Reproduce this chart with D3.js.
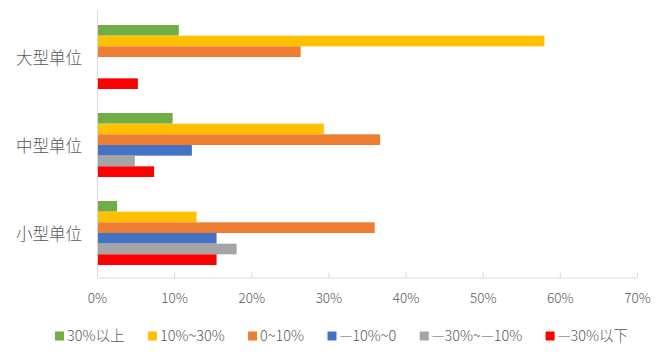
<!DOCTYPE html>
<html>
<head>
<meta charset="utf-8">
<script src="https://cdn.jsdelivr.net/npm/d3@7"></script>
<style>
  html, body { margin: 0; padding: 0; background: #fff; }
  svg { display: block; font-family: "Noto Sans CJK SC", "Noto Sans", sans-serif; }
</style>
</head>
<body>
<svg id="chart" width="663" height="356"></svg>
<script>
const categories = ["大型单位", "中型单位", "小型单位"];
const seriesNames = ["30%以上", "10%~30%", "0~10%", "—10%~0", "—30%~—10%", "—30%以下"];
const seriesColors = ["#70AD47", "#FFC000", "#ED7D31", "#4472C4", "#A5A5A5", "#FF0000"];
// values in percent, per series, ordered as categories
const s30up   = [10.6, 9.8, 2.6];
const s10to30 = [58.0, 29.4, 12.9];
const s0to10  = [26.4, 36.7, 36.0];
const sm10to0 = [0, 12.3, 15.5];
const sm30to10 = [0, 4.9, 18.1];
const sm30down = [5.3, 7.4, 15.5];
const seriesValues = [s30up, s10to30, s0to10, sm10to0, sm30to10, sm30down];
const xTicks = [0, 10, 20, 30, 40, 50, 60, 70];

const svg = d3.select("#chart");
const plotLeft = 97, plotRight = 637, plotTop = 13, plotBottom = 277;

const x = d3.scaleLinear().domain([0, 70]).range([plotLeft, plotRight]);
const y0 = d3.scaleBand().domain(categories).range([plotTop, plotBottom])
  .paddingInner(0.2727).paddingOuter(0.1364);
const y1 = d3.scaleBand().domain(seriesNames).range([0, y0.bandwidth()]);

// bars
categories.forEach((cat, ci) => {
  const g = svg.append("g").attr("transform", `translate(0,${y0(cat)})`);
  seriesNames.forEach((s, si) => {
    const v = seriesValues[si][ci];
    if (v <= 0) return;
    g.append("rect")
      .attr("x", x(0))
      .attr("y", y1(s))
      .attr("width", x(v) - x(0))
      .attr("height", y1.bandwidth())
      .attr("fill", seriesColors[si]);
  });
});

// axes
const axisColor = "#D9D9D9";
svg.append("line").attr("x1", plotLeft + 0.5).attr("x2", plotLeft + 0.5)
  .attr("y1", 10).attr("y2", plotBottom).attr("stroke", axisColor);
const xAxis = d3.axisBottom(x).tickValues(xTicks).tickSizeInner(-5).tickSizeOuter(0)
  .tickFormat(d => d + "%");
const gx = svg.append("g").attr("transform", `translate(0,${plotBottom + 0.5})`).call(xAxis);
gx.select(".domain").attr("stroke", axisColor);
gx.selectAll(".tick line").attr("stroke", axisColor);
gx.selectAll(".tick text")
  .attr("y", 25).attr("dy", "0")
  .attr("fill", "#595959")
  .style("font-size", "13.5px")
  .style("font-weight", "300")
  .style("font-family", "\"Noto Sans CJK SC\", sans-serif");

// category labels
svg.append("g").selectAll("text").data(categories).join("text")
  .attr("x", 82)
  .attr("y", d => y0(d) + y0.bandwidth() / 2 + 1)
  .attr("dy", "0.35em")
  .attr("text-anchor", "end")
  .attr("fill", "#595959")
  .style("font-size", "16.5px")
  .style("font-weight", "300")
  .text(d => d);

// legend
const legend = svg.append("g");
const legendY = 336;
const items = legend.selectAll("g").data(seriesNames).join("g");
items.append("rect").attr("width", 9).attr("height", 9).attr("y", legendY - 4.5)
  .attr("fill", (d, i) => seriesColors[i]);
items.append("text").attr("x", 12).attr("y", legendY).attr("dy", "0.35em")
  .attr("fill", "#595959").style("font-size", "14.5px").style("font-weight", "300")
  .text(d => d);
const widths = [];
items.each(function() { widths.push(12 + d3.select(this).select("text").node().getComputedTextLength()); });
const startX = 55, endX = 628;
const totalText = d3.sum(widths);
const gap = (endX - startX - totalText) / (seriesNames.length - 1);
let cx = startX;
items.each(function(d, i) {
  d3.select(this).attr("transform", `translate(${cx},0)`);
  cx += widths[i] + gap;
});
</script>
</body>
</html>
